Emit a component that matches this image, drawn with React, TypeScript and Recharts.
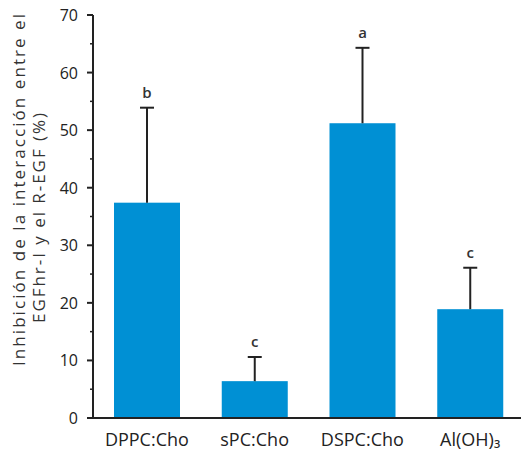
import { BarChart, Bar, XAxis, YAxis } from 'recharts';

const categories = ['DPPC:Cho', 'sPC:Cho', 'DSPC:Cho', 'Al(OH)₃'];
const inhibition = [37.4, 6.4, 51.2, 18.9];
const errorUp = [16.5, 4.2, 13.1, 7.2];
const letters = ['b', 'c', 'a', 'c'];
const yTicks = [0, 5, 10, 15, 20, 25, 30, 35, 40, 45, 50, 55, 60, 65, 70];

const data = categories.map((name, i) => ({
  name,
  value: inhibition[i],
  err: errorUp[i],
  letter: letters[i],
}));

// tick marks sit between the categories, not under them
const categoryEdges = categories.map((_, i) => i).concat(categories.length);

const INK = '#222';
const BLUE = '#0090d4';
const FONT = '"Open Sans", sans-serif';

// bar + one-sided error whisker + significance letter
function BarWithError(props: any) {
  const { x, y, width, height, payload } = props;
  const unit = height / payload.value;
  const top = y - payload.err * unit;
  const cx = x + width / 2;
  return (
    <g>
      <rect x={x} y={y} width={width} height={height} fill={BLUE} />
      <line x1={cx} y1={y} x2={cx} y2={top} stroke={INK} strokeWidth={2} />
      <line x1={cx - 7} y1={top} x2={cx + 7} y2={top} stroke={INK} strokeWidth={2} />
      <text x={cx} y={top - 10} textAnchor="middle" fontSize={15} fontWeight={600} fill="#333" fontFamily={FONT}>
        {payload.letter}
      </text>
    </g>
  );
}

// major ticks (every 10) get a label, the 5s only a short mark
function YTick(props: any) {
  const { x, y, payload } = props;
  const major = payload.value % 10 === 0;
  return (
    <g>
      <line x1={x - (major ? 6 : 3)} y1={y} x2={x} y2={y} stroke={INK} strokeWidth={major ? 2 : 1.5} />
      {major && (
        <text x={x - 15} y={y} textAnchor="end" dominantBaseline="central" fontSize={16} fill="#222" fontFamily={FONT}>
          {payload.value}
        </text>
      )}
    </g>
  );
}

function YLabel() {
  return (
    <g fontFamily={FONT} fontSize={17} fill="#333">
      <text
        x={18}
        y={190}
        transform="rotate(-90, 18, 190)"
        textAnchor="middle"
        dominantBaseline="central"
        textLength={352}
        lengthAdjust="spacing"
      >
        Inhibición de la interacción entre el
      </text>
      <text
        x={38}
        y={218}
        transform="rotate(-90, 38, 218)"
        textAnchor="middle"
        dominantBaseline="central"
        textLength={210}
        lengthAdjust="spacing"
      >
        EGFhr-I y el R-EGF (%)
      </text>
    </g>
  );
}

export default function App() {
  return (
    <div style={{ position: 'absolute', left: 0, top: 0 }}>
      <BarChart
        width={521}
        height={452}
        data={data}
        margin={{ top: 15, right: -3, bottom: 0, left: 0 }}
        barSize={66}
      >
        <XAxis
          xAxisId="edges"
          type="number"
          domain={[0, categories.length]}
          ticks={categoryEdges}
          tick={false}
          axisLine={false}
          tickSize={6}
          tickLine={{ stroke: INK, strokeWidth: 2 }}
          height={0}
        />
        <XAxis
          xAxisId="main"
          dataKey="name"
          height={34}
          tickLine={false}
          tickSize={0}
          tickMargin={15}
          axisLine={{ stroke: INK, strokeWidth: 2 }}
          tick={{ fill: '#222', fontSize: 18, fontFamily: FONT }}
        />
        <YAxis
          yAxisId="main"
          domain={[0, 70]}
          ticks={yTicks}
          interval={0}
          width={93}
          tickSize={0}
          tickMargin={0}
          tickLine={false}
          axisLine={{ stroke: INK, strokeWidth: 2 }}
          tick={<YTick />}
          label={{ content: () => <YLabel /> }}
        />
        <Bar
          xAxisId="main"
          yAxisId="main"
          dataKey="value"
          fill={BLUE}
          shape={BarWithError}
          isAnimationActive={false}
        />
      </BarChart>
    </div>
  );
}
